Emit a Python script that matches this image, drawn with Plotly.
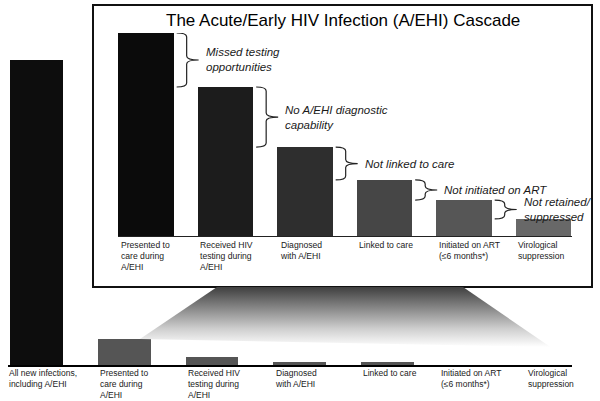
import plotly.graph_objects as go

# ---------------- data ----------------
main_labels = ["All new infections,<br>including A/EHI", "Presented to<br>care during<br>A/EHI",
               "Received HIV<br>testing during<br>A/EHI", "Diagnosed<br>with A/EHI", "Linked to care",
               "Initiated on ART<br>(≤6 months*)", "Virological<br>suppression"]
main_values = [100, 8.5, 2.6, 1.0, 1.0, 0, 0]
main_colors = ["#0d0d0d", "#555555", "#555555", "#555555", "#555555", "#555555", "#555555"]

inset_labels = main_labels[1:]
inset_values = [100, 73.4, 43.8, 27.6, 17.7, 8.4]
inset_colors = ["#0b0b0b", "#1c1c1c", "#2e2e2e", "#464646", "#565656", "#686868"]

gap_labels = ["Missed testing<br>opportunities", "No A/EHI diagnostic<br>capability",
              "Not linked to care", "Not initiated on ART", "Not retained/<br>suppressed"]

title_text = "The Acute/Early HIV Infection (A/EHI) Cascade"

# ---------------- layout geometry ----------------
W, H = 600, 401
FONT = "Liberation Sans, Arial, sans-serif"
main_label_xshift = [-3, 0, 0, 0, 0, -10, -10]   # style: nudge of bottom labels (px)

mx_dom = [8 / W, 572 / W]
my_dom = [36 / H, 396 / H]
mx_rng = [-0.325, 6.106]
my_rng = [0, 118]

ix_dom = [118 / W, 572 / W]
iy_dom = [165 / H, 368 / H]
ix_rng = [-0.35, 5.36]
iy_rng = [0, 100]

box = dict(x0=93 / W, x1=592 / W, y0=(H - 287) / H, y1=(H - 5) / H)


def paper_to_main_x(px):
    return mx_rng[0] + (px - mx_dom[0]) / (mx_dom[1] - mx_dom[0]) * (mx_rng[1] - mx_rng[0])


def paper_to_main_y(py):
    return my_rng[0] + (py - my_dom[0]) / (my_dom[1] - my_dom[0]) * (my_rng[1] - my_rng[0])


fig = go.Figure()

# zoom connector with gradient (from inset box bottom to the "Presented" bar)
top_y = paper_to_main_y(box["y0"])
conn_x = [1.18, paper_to_main_x(217 / W), paper_to_main_x(463 / W), 5.86, 1.18]
conn_y = [main_values[1], top_y, top_y, 5.9, main_values[1]]
fig.add_trace(go.Scatter(
    x=conn_x, y=conn_y, mode="lines", fill="toself", line=dict(width=0),
    fillgradient=dict(type="vertical", colorscale=[[0, "#ffffff"], [0.3, "#cfcfcf"], [1, "#3f3f3f"]]),
    hoverinfo="skip", showlegend=False, xaxis="x", yaxis="y"))

# main bars
fig.add_trace(go.Bar(x=list(range(len(main_values))), y=main_values, marker=dict(color=main_colors, line=dict(width=0)),
                     width=0.6, showlegend=False, xaxis="x", yaxis="y"))

# inset bars
fig.add_trace(go.Bar(x=list(range(len(inset_values))), y=inset_values, marker=dict(color=inset_colors, line=dict(width=0)),
                     width=0.7, showlegend=False, xaxis="x2", yaxis="y2"))

shapes = [dict(type="rect", xref="paper", yref="paper", layer="below", fillcolor="white",
               line=dict(color="#111", width=2), **box)]

annotations = []
# main labels
for i, lab in enumerate(main_labels):
    annotations.append(dict(x=i - 0.3, y=0, xref="x", yref="y", text=lab, showarrow=False,
                            xanchor="left", yanchor="top", align="left", yshift=-1,
                            xshift=main_label_xshift[i],
                            font=dict(family=FONT, size=8.5, color="#1a1a1a")))
# inset labels
for i, lab in enumerate(inset_labels):
    annotations.append(dict(x=i - 0.34, y=0, xref="x2", yref="y2", text=lab, showarrow=False,
                            xanchor="left", yanchor="top", align="left", yshift=-2,
                            font=dict(family=FONT, size=8.6, color="#1a1a1a")))

# braces
dx = (ix_rng[1] - ix_rng[0]) / ((ix_dom[1] - ix_dom[0]) * W)
dy = (iy_rng[1] - iy_rng[0]) / ((iy_dom[1] - iy_dom[0]) * H)
for i, lab in enumerate(gap_labels):
    top, bot = inset_values[i], inset_values[i + 1]
    mid = (top + bot) / 2
    x0 = i + 0.35 + 3 * dx
    x1 = x0 + 10 * dx
    x2 = x1 + 12 * dx
    r = min(4 * dy, (top - bot) / 4)
    path = (f"M {x0},{top} Q {x1},{top} {x1},{top - r} L {x1},{mid + r} "
            f"Q {x1},{mid} {x2},{mid} Q {x1},{mid} {x1},{mid - r} "
            f"L {x1},{bot + r} Q {x1},{bot} {x0},{bot}")
    shapes.append(dict(type="path", xref="x2", yref="y2", path=path, line=dict(color="#222", width=1.2)))
    annotations.append(dict(x=x2, y=mid, xref="x2", yref="y2", text=f"<i>{lab}</i>", showarrow=False,
                            xanchor="left", yanchor="middle", align="left", xshift=5,
                            font=dict(family=FONT, size=11.5, color="#1a1a1a")))

# inset title
annotations.append(dict(x=(box["x0"] + box["x1"]) / 2, y=(H - 20) / H, xref="paper", yref="paper",
                        text=title_text, showarrow=False, xanchor="center", yanchor="middle",
                        font=dict(family=FONT, size=17, color="#000")))

fig.update_layout(
    width=W, height=H, margin=dict(l=0, r=0, t=0, b=0),
    paper_bgcolor="white", plot_bgcolor="rgba(0,0,0,0)",
    bargap=0, showlegend=False,
    xaxis=dict(domain=mx_dom, range=mx_rng, showgrid=False, zeroline=False, showticklabels=False,
               ticks="", showline=True, linecolor="#000", linewidth=1.5, fixedrange=True),
    yaxis=dict(domain=my_dom, range=my_rng, visible=False, fixedrange=True),
    xaxis2=dict(domain=ix_dom, range=ix_rng, anchor="y2", showgrid=False, zeroline=False,
                showticklabels=False, ticks="", showline=True, linecolor="#222", linewidth=1, fixedrange=True),
    yaxis2=dict(domain=iy_dom, range=iy_rng, anchor="x2", visible=False, fixedrange=True),
    shapes=shapes, annotations=annotations,
)

fig.write_html("out.html", config={"displayModeBar": False, "staticPlot": True},
               post_script="document.body.style.margin='0';document.body.style.overflow='hidden';")
